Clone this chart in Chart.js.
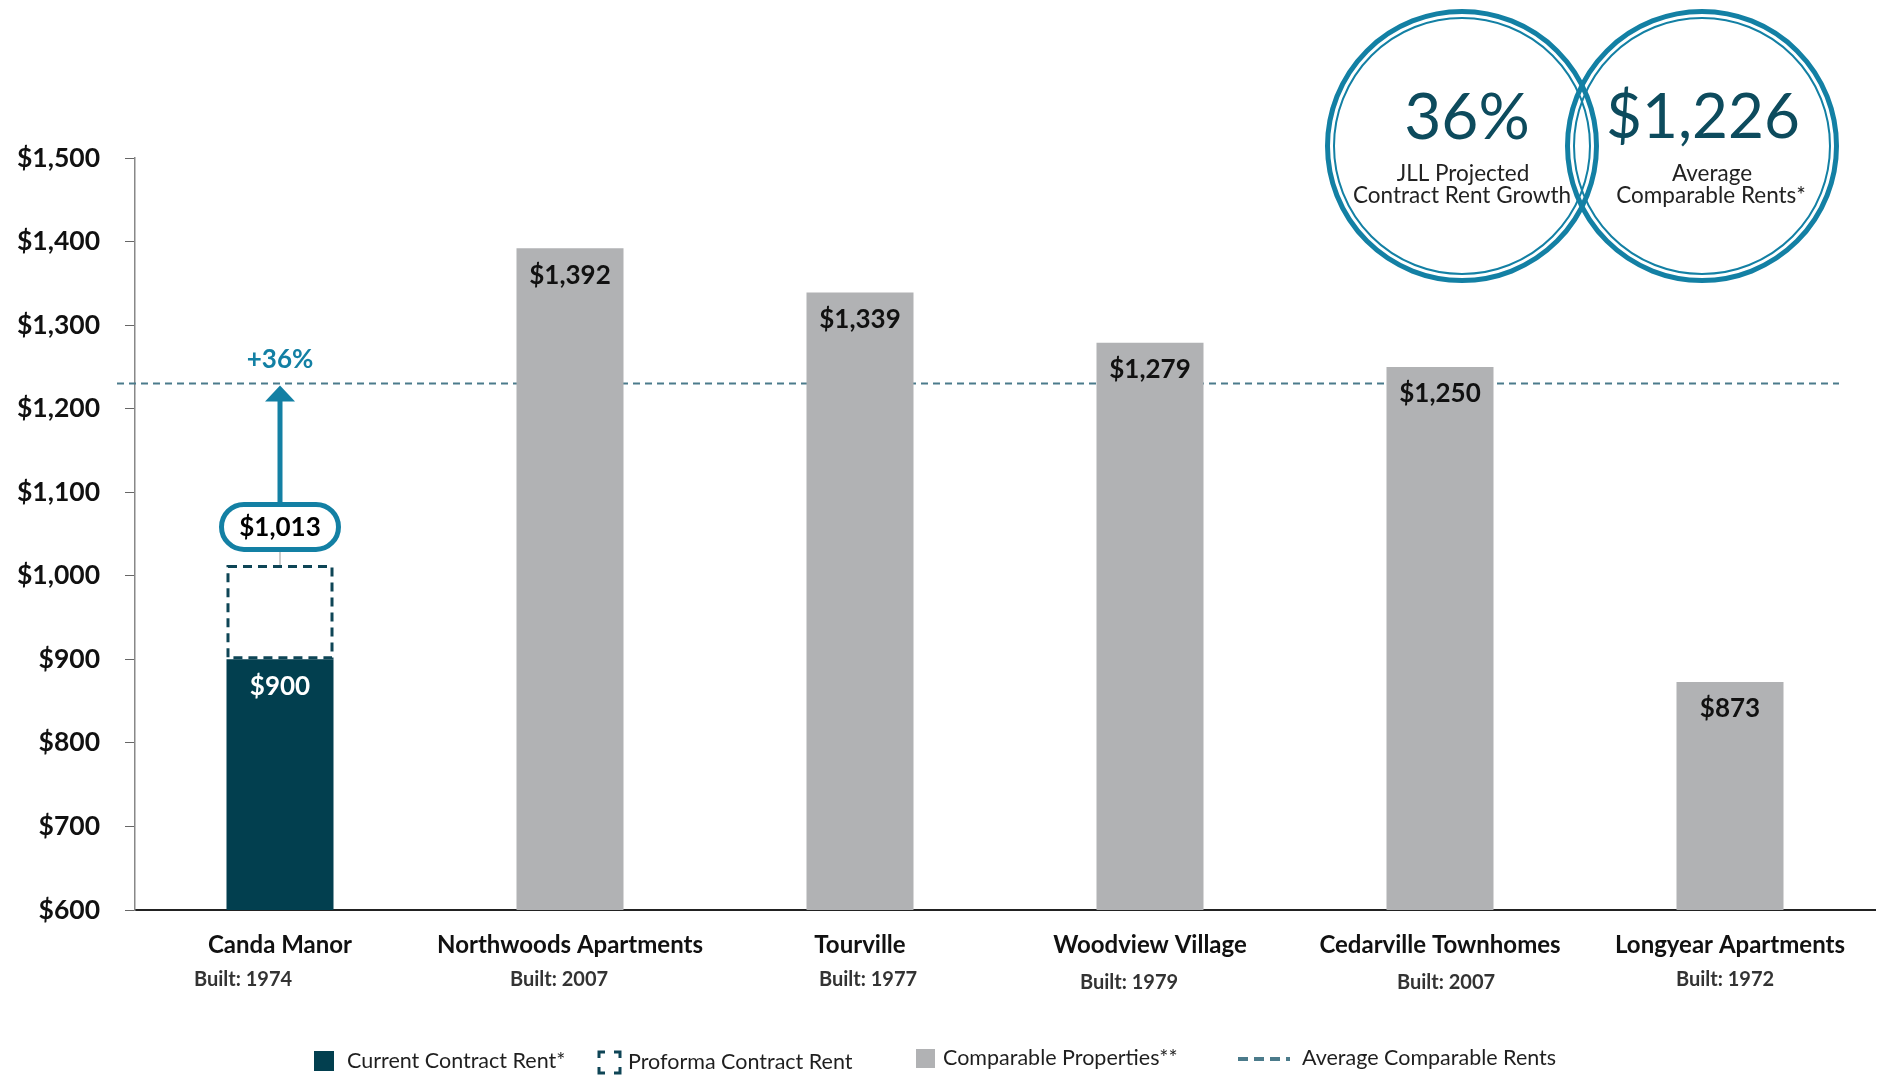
<!DOCTYPE html>
<html>
<head>
<meta charset="utf-8">
<script src="https://cdn.jsdelivr.net/npm/chart.js@4.4.1/dist/chart.umd.min.js"></script>
<style>
  html, body { margin: 0; padding: 0; background: #fff; }
  #wrap { width: 1885px; height: 1079px; }
</style>
</head>
<body>
<div id="wrap"><canvas id="rentChart" width="1885" height="1079"></canvas></div>
<script>
// data
const properties = ["Canda Manor", "Northwoods Apartments", "Tourville", "Woodview Village", "Cedarville Townhomes", "Longyear Apartments"];
const builtYears = [1974, 2007, 1977, 1979, 2007, 1972];
const currentRent = [900, null, null, null, null, null];
const proformaRent = [[900, 1013], null, null, null, null, null];
const comparableRents = [null, 1392, 1339, 1279, 1250, 873];
const avgLineValue = 1230; // where the dashed average line sits in the picture
const avgComparableLabel = "$1,226";
const growthLabel = "36%";
const yMin = 600, yMax = 1500, yStep = 100;
const legendLabels = ["Current Contract Rent*", "Proforma Contract Rent", "Comparable Properties**", "Average Comparable Rents"];

const DARK = "#023F4F";
const GRAY = "#B1B2B4";
const TEAL = "#1380A4";
const AVG = "#4B7B8B";
const FONT = "Lato, 'Open Sans', sans-serif";

const money = v => "$" + v.toLocaleString("en-US");

const annotations = {
  id: "annotations",
  beforeDatasetsDraw(chart) {
    const { ctx, chartArea, scales } = chart;
    const y = scales.y.getPixelForValue(avgLineValue);
    ctx.save();
    ctx.strokeStyle = AVG;
    ctx.lineWidth = 2;
    ctx.setLineDash([7, 5]);
    ctx.beginPath();
    ctx.moveTo(chartArea.left - 18, y);
    ctx.lineTo(chartArea.right - 36, y);
    ctx.stroke();
    ctx.restore();
  },
  afterDatasetsDraw(chart) {
    const { ctx, scales } = chart;
    ctx.save();
    ctx.textAlign = "center";
    ctx.textBaseline = "middle";

    // dashed proforma outline
    const pf = chart.getDatasetMeta(1).data[0];
    ctx.strokeStyle = "#0E4556";
    ctx.lineWidth = 3;
    ctx.setLineDash([9, 6]);
    ctx.strokeRect(pf.x - pf.width / 2 + 1.5, pf.y + 1.5, pf.width - 3, pf.base - pf.y - 3);
    ctx.setLineDash([]);

    // current rent label
    const cur = chart.getDatasetMeta(0).data[0];
    ctx.font = "bold 26px " + FONT;
    ctx.fillStyle = "#fff";
    ctx.fillText(money(currentRent[0]), cur.x, cur.y + 27);

    // comparable labels
    ctx.fillStyle = "#111";
    chart.getDatasetMeta(2).data.forEach((bar, i) => {
      if (comparableRents[i] == null) return;
      ctx.fillText(money(comparableRents[i]), bar.x, bar.y + 27);
    });

    // pill label + arrow up to the average line
    const avgY = scales.y.getPixelForValue(avgLineValue);
    const pillCy = pf.y - 38, pillW = 117, pillH = 45;
    ctx.strokeStyle = "#999";
    ctx.lineWidth = 1;
    ctx.beginPath();
    ctx.moveTo(pf.x, pillCy + pillH / 2);
    ctx.lineTo(pf.x, pf.y);
    ctx.stroke();

    ctx.fillStyle = TEAL;
    ctx.fillRect(pf.x - 2.5, avgY + 16, 5, pillCy - pillH / 2 - avgY - 16);
    ctx.beginPath();
    ctx.moveTo(pf.x, avgY + 2);
    ctx.lineTo(pf.x + 15, avgY + 18);
    ctx.lineTo(pf.x - 15, avgY + 18);
    ctx.closePath();
    ctx.fill();

    ctx.beginPath();
    ctx.roundRect(pf.x - pillW / 2, pillCy - pillH / 2, pillW, pillH, pillH / 2);
    ctx.fillStyle = "#fff";
    ctx.fill();
    ctx.strokeStyle = TEAL;
    ctx.lineWidth = 5;
    ctx.stroke();
    ctx.fillStyle = "#000";
    ctx.font = "bold 26px " + FONT;
    ctx.fillText(money(proformaRent[0][1]), pf.x, pillCy + 1);

    ctx.fillStyle = TEAL;
    ctx.font = "bold 26px " + FONT;
    ctx.fillText("+" + growthLabel, pf.x, avgY - 24);
    ctx.restore();
  },
  afterDraw(chart) {
    const { ctx, scales } = chart;
    ctx.save();
    ctx.textAlign = "center";
    ctx.textBaseline = "middle";

    // built years under the names
    const builtDx = [-37, -11, 8, -21, 6, -5];
    const builtDy = [0, 0, 0, 3, 3, 0];
    ctx.font = "bold 20px " + FONT;
    ctx.fillStyle = "#333";
    builtYears.forEach((yr, i) => {
      ctx.fillText("Built: " + yr, scales.x.getPixelForValue(i) + builtDx[i], 980 + builtDy[i]);
    });

    // the two callout circles
    const ring = (cx, cy, r) => {
      ctx.strokeStyle = TEAL;
      ctx.lineWidth = 5;
      ctx.beginPath(); ctx.arc(cx, cy, r - 2.5, 0, Math.PI * 2); ctx.stroke();
      ctx.lineWidth = 2;
      ctx.beginPath(); ctx.arc(cx, cy, r - 9, 0, Math.PI * 2); ctx.stroke();
    };
    ring(1462, 146, 137);
    ring(1702, 146, 137);
    ctx.fillStyle = "#0D4B5D";
    ctx.font = "64px " + FONT;
    ctx.fillText(growthLabel, 1467, 118);
    ctx.font = "62px " + FONT;
    ctx.fillText(avgComparableLabel, 1703, 118);
    ctx.fillStyle = "#222";
    ctx.font = "22.5px " + FONT;
    ctx.fillText("JLL Projected", 1463, 174);
    ctx.fillText("Contract Rent Growth", 1462, 196);
    ctx.fillText("Average", 1712, 174);
    ctx.fillText("Comparable Rents*", 1711, 196);

    // legend
    ctx.textAlign = "left";
    ctx.font = "21.5px " + FONT;
    ctx.fillStyle = DARK;
    ctx.fillRect(314, 1051, 20, 20);
    ctx.fillStyle = GRAY;
    ctx.fillRect(916, 1049, 19, 19);

    ctx.strokeStyle = "#0E4556";
    ctx.lineWidth = 3;
    const bx = 599, by = 1052, bs = 21, arm = 6;
    ctx.beginPath();
    ctx.moveTo(bx, by + arm); ctx.lineTo(bx, by); ctx.lineTo(bx + arm, by);
    ctx.moveTo(bx + bs - arm, by); ctx.lineTo(bx + bs, by); ctx.lineTo(bx + bs, by + arm);
    ctx.moveTo(bx, by + bs - arm); ctx.lineTo(bx, by + bs); ctx.lineTo(bx + arm, by + bs);
    ctx.moveTo(bx + bs - arm, by + bs); ctx.lineTo(bx + bs, by + bs); ctx.lineTo(bx + bs, by + bs - arm);
    ctx.stroke();

    ctx.strokeStyle = AVG;
    ctx.lineWidth = 4;
    ctx.setLineDash([10, 6]);
    ctx.beginPath(); ctx.moveTo(1238, 1059); ctx.lineTo(1290, 1059); ctx.stroke();
    ctx.setLineDash([]);

    ctx.fillStyle = "#1f1f1f";
    ctx.fillText(legendLabels[0], 347, 1061);
    ctx.fillText(legendLabels[1], 628, 1062);
    ctx.fillText(legendLabels[2], 943, 1058);
    ctx.fillText(legendLabels[3], 1302, 1058);
    ctx.restore();
  }
};

new Chart(document.getElementById("rentChart"), {
  type: "bar",
  data: {
    labels: properties,
    datasets: [
      { label: legendLabels[0], data: currentRent, backgroundColor: DARK, order: 2 },
      { label: legendLabels[1], data: proformaRent, backgroundColor: "rgba(0,0,0,0)", order: 1 },
      { label: legendLabels[2], data: comparableRents, backgroundColor: GRAY, order: 3 },
    ],
  },
  options: {
    responsive: false,
    animation: false,
    devicePixelRatio: 1,
    layout: { padding: { left: 0, right: 10, top: 158, bottom: 0 } },
    datasets: { bar: { grouped: false, barPercentage: 0.369, categoryPercentage: 1 } },
    plugins: { legend: { display: false }, tooltip: { enabled: false } },
    scales: {
      x: {
        grid: { display: false },
        border: { display: true, color: "#222", width: 2 },
        ticks: { color: "#111", font: { family: FONT, size: 24, weight: "bold" }, padding: 13, maxRotation: 0, autoSkip: false },
        afterFit: s => { s.height = 169; },
      },
      y: {
        min: yMin,
        max: yMax,
        grid: { drawOnChartArea: false, drawTicks: true, tickLength: 10, color: "#666" },
        border: { display: true, color: "#888", width: 1.5 },
        ticks: { stepSize: yStep, color: "#111", padding: 25, font: { family: FONT, size: 26.5, weight: "bold" }, callback: v => money(v) },
        afterFit: s => { s.width = 135; },
      },
    },
  },
  plugins: [annotations],
});
</script>
</body>
</html>
